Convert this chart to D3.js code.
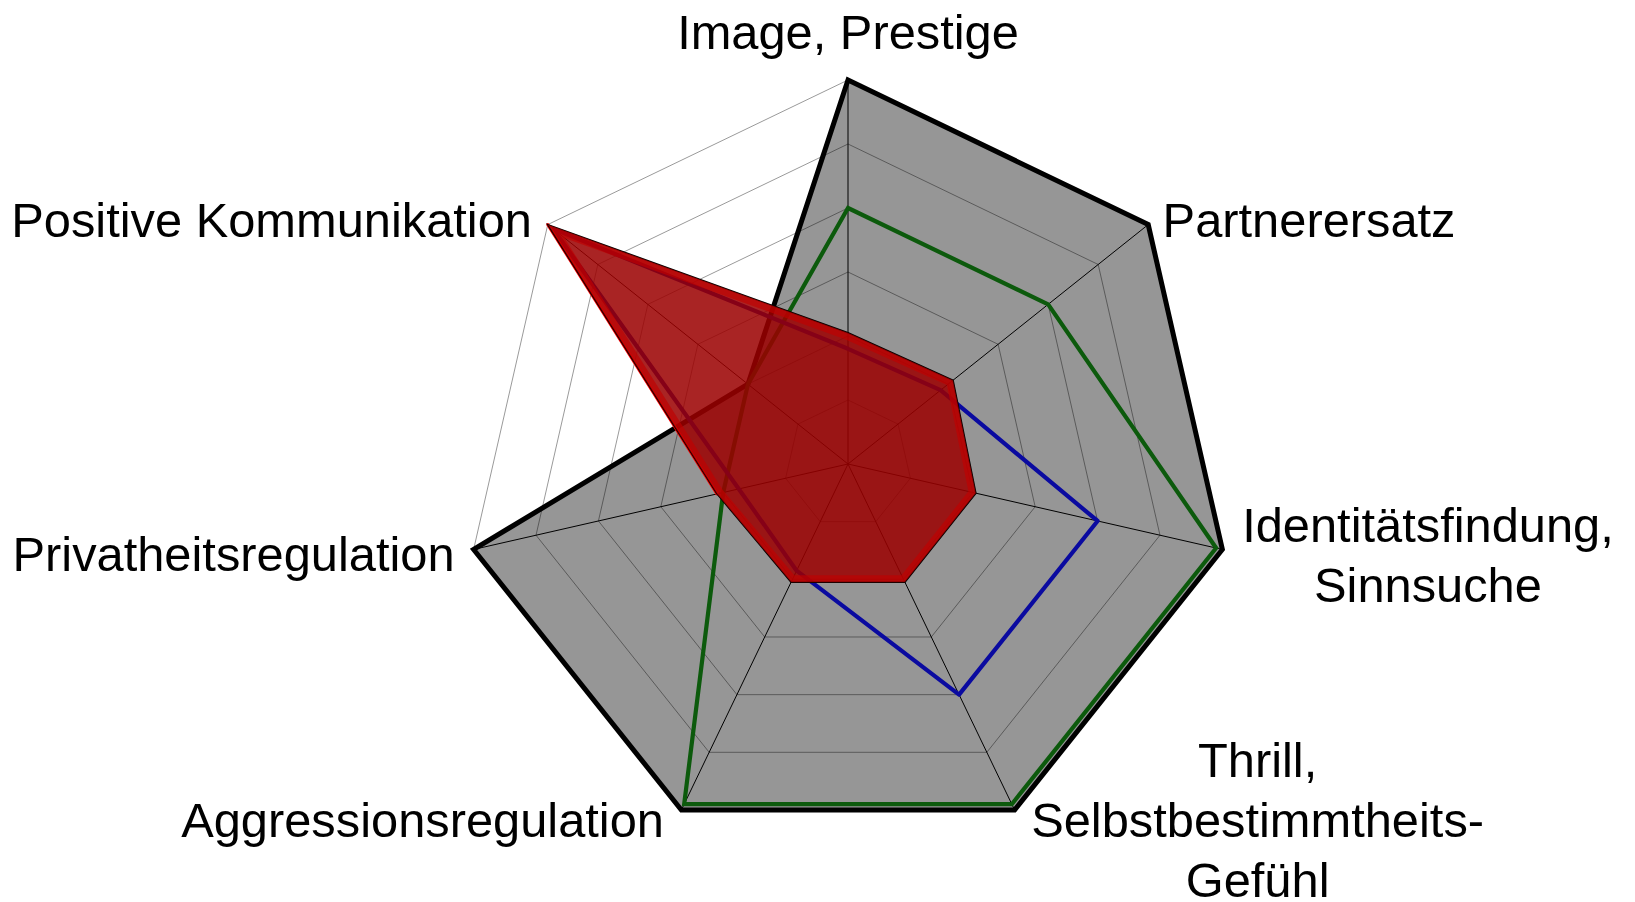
<!DOCTYPE html>
<html>
<head>
<meta charset="utf-8">
<script src="https://cdn.jsdelivr.net/npm/d3@7"></script>
<style>
  body { margin: 0; background: #fff; }
  .label { font-family: "Liberation Sans", Arial, sans-serif; font-size: 48.8px; fill: #000; }
</style>
</head>
<body>
<div id="radar"></div>
<script>
// axis labels, clockwise from the top
var categories = [
    "Image, Prestige",
    "Partnerersatz",
    "Identitätsfindung,\nSinnsuche",
    "Thrill,\nSelbstbestimmtheits-\nGefühl",
    "Aggressionsregulation",
    "Privatheitsregulation",
    "Positive Kommunikation"
];

var gridLevels = [1, 2, 3, 4, 5, 6];

// series values (0..6)
var grayValues = [6, 6, 6, 6, 6, 6, 2];
var greenValues = [4, 4, 5.9, 5.9, 5.9, 2, 2];
var blueValues = [1.8, 1.85, 4, 4, 1.85, 1.75, 5.9];
var redValues = [2.05, 2.1, 2.05, 2.05, 2.05, 2.1, 6];

var svgWidth = 1635;
var svgHeight = 902;
var cx = 848;
var cy = 464;
var radius = 384;

var svg = d3.select("#radar")
    .append("svg")
    .attr("width", svgWidth)
    .attr("height", svgHeight);

var chartGroup = svg.append("g")
    .attr("transform", `translate(${cx},${cy})`);

var rScale = d3.scaleLinear()
    .domain([0, 6])
    .range([0, radius]);

var n = categories.length;
var angle = i => i * 2 * Math.PI / n;

var radarLine = d3.lineRadial()
    .angle((d, i) => angle(i))
    .radius(d => rScale(d))
    .curve(d3.curveLinearClosed);

function point(v, i) {
    var a = angle(i) - Math.PI / 2;
    return [rScale(v) * Math.cos(a), rScale(v) * Math.sin(a)];
}

// gray filled area
chartGroup.append("path")
    .datum(grayValues)
    .attr("d", radarLine)
    .attr("fill", "#969696");

// grid rings
chartGroup.selectAll(".ring")
    .data(gridLevels)
    .enter()
    .append("path")
    .attr("class", "ring")
    .attr("d", lv => radarLine(categories.map(() => lv)))
    .attr("fill", "none")
    .attr("stroke", "rgba(0,0,0,0.4)")
    .attr("stroke-width", 1);

// spokes
chartGroup.selectAll(".spoke")
    .data(categories)
    .enter()
    .append("line")
    .attr("class", "spoke")
    .attr("x1", 0)
    .attr("y1", 0)
    .attr("x2", (d, i) => point(6, i)[0])
    .attr("y2", (d, i) => point(6, i)[1])
    .attr("stroke", "#000")
    .attr("stroke-width", 1);

// gray area outline
chartGroup.append("path")
    .datum(grayValues)
    .attr("d", radarLine)
    .attr("fill", "none")
    .attr("stroke", "#000")
    .attr("stroke-width", 5)
    .attr("stroke-linejoin", "miter");

// green line
chartGroup.append("path")
    .datum(greenValues)
    .attr("d", radarLine)
    .attr("fill", "none")
    .attr("stroke", "#0c5a0c")
    .attr("stroke-width", 4.2);

// blue line
chartGroup.append("path")
    .datum(blueValues)
    .attr("d", radarLine)
    .attr("fill", "none")
    .attr("stroke", "#0a0aa0")
    .attr("stroke-width", 4.2)
    .attr("stroke-linejoin", "round");

// red area, semi transparent
var redPath = radarLine(redValues);

svg.append("defs")
    .append("clipPath")
    .attr("id", "redClip")
    .append("path")
    .attr("d", redPath)
    .attr("transform", `translate(${cx},${cy})`);

chartGroup.append("path")
    .attr("d", redPath)
    .attr("fill", "rgb(155,0,0)")
    .attr("fill-opacity", 0.86);

svg.append("g")
    .attr("clip-path", "url(#redClip)")
    .append("path")
    .attr("transform", `translate(${cx},${cy})`)
    .attr("d", redPath)
    .attr("fill", "none")
    .attr("stroke", "#c00000")
    .attr("stroke-opacity", 0.65)
    .attr("stroke-width", 14);

// thin bright edge on the left side of the spike (Privatheit -> Positive Kommunikation)
var last = n - 1;
chartGroup.append("path")
    .attr("d", d3.line()([point(redValues[last - 1], last - 1), point(redValues[last], last)]))
    .attr("fill", "none")
    .attr("stroke", "#ff0000")
    .attr("stroke-width", 3)
    .attr("stroke-linecap", "round");

chartGroup.append("path")
    .attr("d", redPath)
    .attr("fill", "none")
    .attr("stroke", "#000")
    .attr("stroke-width", 1.5);

// labels, placed from the outer vertex of each axis
var labelPos = [
    { anchor: "middle", dx: 0, dy: -31 },
    { anchor: "start", dx: 14.4, dy: 12 },
    { anchor: "middle", dx: 205.6, dy: -7.4 },
    { anchor: "middle", dx: 243, dy: -33 },
    { anchor: "end", dx: -17.4, dy: 27 },
    { anchor: "end", dx: -19, dy: 21.6 },
    { anchor: "end", dx: -15.8, dy: 12.1 }
];

categories.forEach(function (c, i) {
    var p = point(6, i);
    var lp = labelPos[i];
    var text = chartGroup.append("text")
        .attr("class", "label")
        .attr("text-anchor", lp.anchor)
        .attr("x", p[0] + lp.dx)
        .attr("y", p[1] + lp.dy);
    c.split("\n").forEach(function (line, k) {
        text.append("tspan")
            .attr("x", p[0] + lp.dx)
            .attr("dy", k === 0 ? 0 : 60)
            .text(line);
    });
});
</script>
</body>
</html>
